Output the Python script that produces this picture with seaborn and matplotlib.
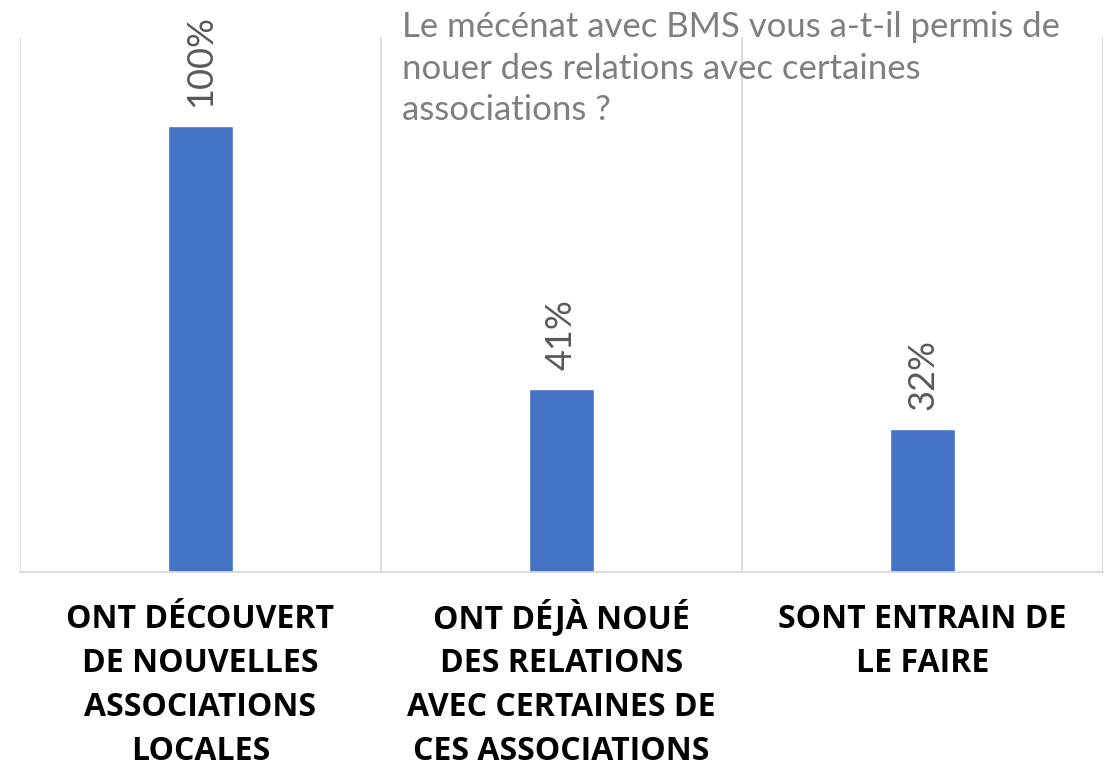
import matplotlib
matplotlib.use("Agg")
import matplotlib.pyplot as plt
import pandas as pd
import seaborn as sns

categories = [
    "ONT DÉCOUVERT\nDE NOUVELLES\nASSOCIATIONS\nLOCALES",
    "ONT DÉJÀ NOUÉ\nDES RELATIONS\nAVEC CERTAINES DE\nCES ASSOCIATIONS",
    "SONT ENTRAIN DE\nLE FAIRE",
]
values = [1.00, 0.41, 0.32]
title = "Le mécénat avec BMS vous a-t-il permis de\nnouer des relations avec certaines\nassociations ?"

df = pd.DataFrame({"categorie": categories, "valeur": values})

sns.set_style("white")
plt.rcParams["font.family"] = ["Lato", "DejaVu Sans"]

fig = plt.figure(figsize=(11.08, 7.7), dpi=100)
ax = fig.add_axes([20 / 1108, 1 - 572 / 770, 1083 / 1108, 535 / 770])

sns.barplot(data=df, x="categorie", y="valeur", color="#4472C4",
            saturation=1, width=0.18, ax=ax)

ax.set_ylim(0, 1.2)
ax.set_xlim(-0.5, 2.5)
ax.set_yticks([])
ax.set_xlabel("")
ax.set_ylabel("")

# séparateurs verticaux entre catégories
ax.set_xticks([-0.5, 0.5, 1.5, 2.5], minor=True)
ax.grid(True, which="minor", axis="x", color="#D9D9D9", linewidth=1.3)
ax.tick_params(axis="x", which="both", length=0)
for s in ["top", "left", "right"]:
    ax.spines[s].set_visible(False)
ax.spines["bottom"].set_color("#D9D9D9")
ax.spines["bottom"].set_linewidth(1.3)

# étiquettes de catégorie, ligne par ligne pour garder les lignes de base alignées
ax.set_xticklabels([""] * len(categories))
for i, cat in enumerate(categories):
    for j, ligne in enumerate(cat.split("\n")):
        ax.annotate(ligne, xy=(i, 0), xycoords=("data", "axes fraction"),
                    xytext=(0, -(56 + j * 44) * 0.72), textcoords="offset points",
                    ha="center", va="baseline", fontsize=23, fontweight="bold",
                    color="black", family=["Open Sans", "DejaVu Sans"],
                    annotation_clip=False)

ax.bar_label(ax.containers[0], labels=[f"{v:.0%}" for v in values],
             rotation=90, padding=14, fontsize=26, color="#595959")

fig.text(402 / 1108, 1 - 11 / 770, title, ha="left", va="top",
         fontsize=25, color="#7F7F7F", linespacing=1.37)

fig.savefig("out.png", dpi=100)
